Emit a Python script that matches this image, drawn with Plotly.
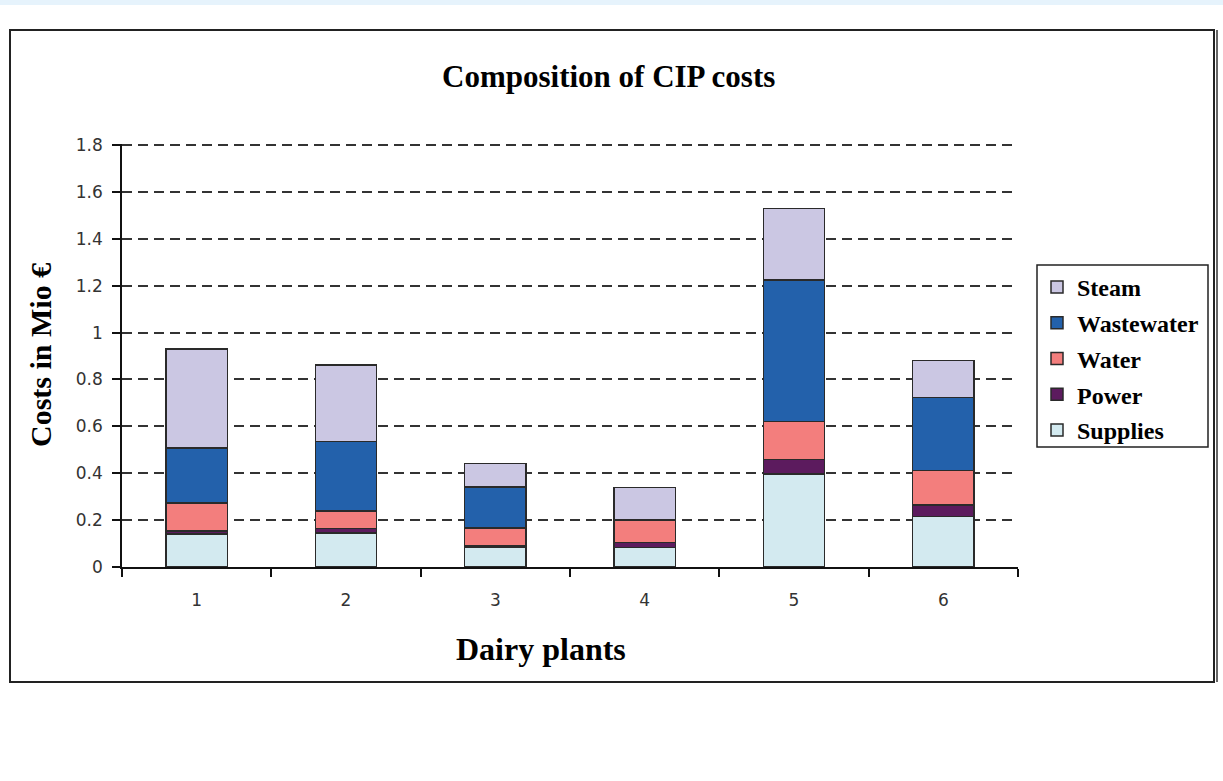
import plotly.graph_objects as go

# Annual CIP cost components per dairy plant, in million euros
plants = ["1", "2", "3", "4", "5", "6"]
supplies = [0.140, 0.145, 0.085, 0.083, 0.397, 0.215]
power = [0.013, 0.020, 0.004, 0.022, 0.062, 0.050]
water = [0.120, 0.073, 0.078, 0.095, 0.161, 0.146]
wastewater = [0.235, 0.298, 0.175, 0.000, 0.604, 0.313]
steam = [0.421, 0.326, 0.100, 0.140, 0.306, 0.156]

y_ticks = [0, 0.2, 0.4, 0.6, 0.8, 1.0, 1.2, 1.4, 1.6, 1.8]
y_tick_text = ["0", "0.2", "0.4", "0.6", "0.8", "1", "1.2", "1.4", "1.6", "1.8"]

W, H = 1223, 781


def px(x):
    return x / W


def py(y):
    return 1 - y / H


SERIF = "Liberation Serif"
SANS = "DejaVu Sans"

# plot area in pixels; the y range runs a hair past 1.8 so its grid line is kept
X_LEFT, X_RIGHT = 122, 1018
Y_ZERO, Y_TOP_TICK = 567, 145
Y_MAX = 1.806
px_per_unit = (Y_ZERO - Y_TOP_TICK) / 1.8
Y_TOP = Y_ZERO - px_per_unit * Y_MAX

# stacking order bottom -> top, legend rank top -> bottom
series = [
    ("Supplies", supplies, "#D3EAF0", 5),
    ("Power", power, "#5C1B5E", 4),
    ("Water", water, "#F37E7D", 3),
    ("Wastewater", wastewater, "#2361AB", 2),
    ("Steam", steam, "#CBC7E3", 1),
]

fig = go.Figure()
for name, vals, color, rank in series:
    fig.add_trace(go.Bar(
        x=plants, y=vals, name=name, legendgroup=name, legendrank=rank,
        width=0.41,
        marker=dict(color=color, line=dict(color="#2a2a2a", width=1.5)),
    ))

fig.update_layout(
    width=W, height=H,
    barmode="stack",
    margin=dict(l=0, r=0, t=0, b=0, autoexpand=False),
    paper_bgcolor="white",
    plot_bgcolor="white",
    xaxis=dict(
        domain=[px(X_LEFT), px(X_RIGHT)],
        type="category",
        showline=True, linecolor="#111", linewidth=1.5,
        ticks="outside", tickson="boundaries", ticklen=8,
        tickcolor="#111", tickwidth=1.5,
        showgrid=False,
        tickfont=dict(family=SANS, size=17, color="#333"),
        ticklabelstandoff=17,
    ),
    yaxis=dict(
        domain=[py(Y_ZERO), py(Y_TOP)],
        range=[0, Y_MAX],
        tickvals=y_ticks, ticktext=y_tick_text,
        showline=True, linecolor="#111", linewidth=1.5,
        ticks="outside", ticklen=8, tickcolor="#111", tickwidth=1.5,
        showgrid=True, gridcolor="#333333", gridwidth=2, griddash="10px,6px",
        zeroline=False,
        tickfont=dict(family=SANS, size=17, color="#333"),
        ticklabelstandoff=6,
    ),
    legend=dict(
        x=px(1037), y=py(265), xanchor="left", yanchor="top",
        xref="paper", yref="paper",
        traceorder="grouped",
        tracegroupgap=1.5,
        bgcolor="rgba(0,0,0,0)",
        borderwidth=0,
        font=dict(family=SERIF, size=24, color="black", weight="bold"),
    ),
    annotations=[
        dict(text="Composition of CIP costs", x=px(608), y=py(77),
             xref="paper", yref="paper", showarrow=False,
             xanchor="center", yanchor="middle",
             font=dict(family=SERIF, size=31, color="black", weight="bold")),
        dict(text="Costs in Mio €", x=px(40), y=py(355), xref="paper", yref="paper",
             textangle=-90, showarrow=False, xanchor="center", yanchor="middle",
             font=dict(family=SERIF, size=30, color="black", weight="bold")),
        dict(text="Dairy plants", x=px(541), y=py(649), xref="paper", yref="paper",
             showarrow=False, xanchor="center", yanchor="middle",
             font=dict(family=SERIF, size=32, color="black", weight="bold")),
    ],
    shapes=[
        # light band along the top edge of the page
        dict(type="rect", xref="paper", yref="paper", x0=0, x1=1, y0=py(5), y1=1,
             fillcolor="#E6F3FC", line=dict(width=0), layer="below"),
        # outer chart frame
        dict(type="rect", xref="paper", yref="paper",
             x0=px(10), x1=px(1214), y0=py(682), y1=py(30),
             line=dict(color="#222", width=2)),
        dict(type="line", xref="paper", yref="paper",
             x0=px(1217), x1=px(1217), y0=py(682), y1=py(30),
             line=dict(color="#333", width=1.5)),
        # legend box
        dict(type="rect", xref="paper", yref="paper",
             x0=px(1037), x1=px(1208), y0=py(447), y1=py(265),
             line=dict(color="#222", width=1.5)),
    ],
)

fig.write_html("out.html")
